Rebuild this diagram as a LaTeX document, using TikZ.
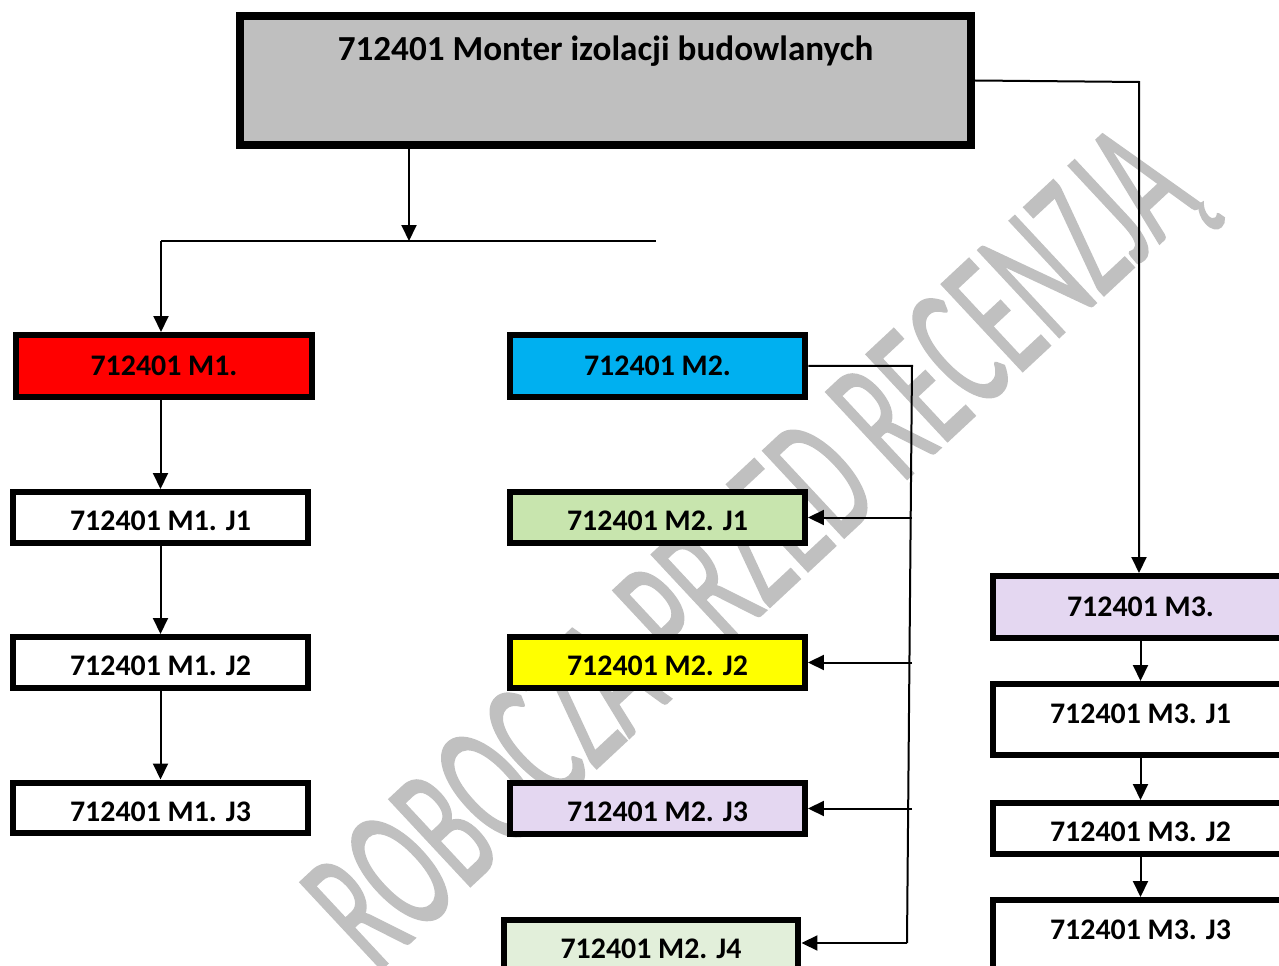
\documentclass[tikz,border=0pt]{standalone}
\usepackage{fontspec}
\setmainfont{Carlito}
\newfontfamily\wmfont[FakeBold=1.2]{Carlito}
\usepackage{graphicx}
\usepackage{xcolor}
\usetikzlibrary{arrows.meta}

\definecolor{boxgray}{HTML}{BFBFBF}
\definecolor{wmgray}{HTML}{C0C0C0}
\definecolor{modred}{HTML}{FF0000}
\definecolor{modblue}{HTML}{00B0F0}
\definecolor{lilac}{HTML}{E4D7F1}
\definecolor{jgreen}{HTML}{C8E5AE}
\definecolor{jpale}{HTML}{E2EFDA}
\definecolor{jyellow}{HTML}{FFFF00}

\begin{document}
\begin{tikzpicture}[x=0.02cm, y=-0.02cm,
        % Define styles for the boxes and the connectors
        box/.style={draw, line width=0.12cm, minimum width=5.9cm, minimum height=1.02cm,
            inner sep=0pt, text height=0.54cm, font=\bfseries\fontsize{17}{20}\selectfont},
        modbox/.style={box, minimum width=5.92cm, minimum height=1.24cm, text height=0.38cm},
        tallbox/.style={box, minimum height=1.42cm, text height=0.38cm, text depth=0.22cm},
        topbox/.style={box, line width=0.16cm, minimum width=14.62cm, minimum height=2.58cm,
            font=\bfseries\fontsize{20}{24}\selectfont, text height=0.4cm, text depth=1.2cm},
        link/.style={line width=0.04cm},
        arr/.style={link, -{Triangle[length=0.32cm, width=0.3cm]}}]

        % 1. Page frame
        \useasboundingbox (0,0) rectangle (1279,966);
        \clip (0,0) rectangle (1279,966);

        % 2. Watermark behind everything
        \node[rotate=43, text=wmgray, inner sep=0pt] (wm) at (758,556)
            {\resizebox{22.6cm}{2.4cm}{\wmfont ROBOCZA PRZED RECENZJĄ}};

        % 3. The occupation and its modules
        \node[topbox, fill=boxgray] (top) at (605.5,80.5) {712401 Monter izolacji budowlanych};
        \node[modbox, fill=modred] (m1) at (164,366) {712401 M1.};
        \node[modbox, fill=modblue] (m2) at (657.5,366) {712401 M2.};
        \node[modbox, fill=lilac] (m3) at (1140.5,607) {712401 M3.};

        % 4. Units of M1
        \node[box] (m1j1) at (160.5,517.5) {712401 M1. J1};
        \node[box] (m1j2) at (160.5,662.5) {712401 M1. J2};
        \node[box] (m1j3) at (160.5,808) {712401 M1. J3};

        % 5. Units of M2
        \node[box, fill=jgreen] (m2j1) at (657.5,517.5) {712401 M2. J1};
        \node[box, fill=jyellow] (m2j2) at (657.5,662.5) {712401 M2. J2};
        \node[box, fill=lilac] (m2j3) at (657.5,808.5) {712401 M2. J3};
        \node[box, fill=jpale] (m2j4) at (651,945.5) {712401 M2. J4};

        % 6. Units of M3
        \node[tallbox] (m3j1) at (1140.5,719.5) {712401 M3. J1};
        \node[box] (m3j2) at (1140.5,828.5) {712401 M3. J2};
        \node[tallbox] (m3j3) at (1140.5,935.5) {712401 M3. J3};

        % 7. Bends of the connectors
        \coordinate (hub) at (409,241);
        \coordinate (brL) at (161,241);
        \coordinate (brR) at (656,241);
        \coordinate (c3) at (1139,82);
        \coordinate (c2t) at (912,366);
        \coordinate (c2b) at (907,943);

        % 8. Connectors from the top box
        \draw[arr] (top.south -| hub) -- (hub);
        \draw[link] (brL) -- (brR);
        \draw[arr] (brL) -- (brL |- m1.north);
        \draw[arr] (top.east) -- (c3) -- (c3 |- m3.north);

        % 9. Chain of M1
        \draw[arr] (m1.south -| m1j1.north) -- (m1j1.north);
        \draw[arr] (m1j1.south) -- (m1j2.north);
        \draw[arr] (m1j2.south) -- (m1j3.north);

        % 10. Bus of M2
        \draw[link] (m2.east) -- (c2t) -- (c2b);
        \draw[arr] (c2t |- m2j1.east) -- (m2j1.east);
        \draw[arr] (c2t |- m2j2.east) -- (m2j2.east);
        \draw[arr] (c2t |- m2j3.east) -- (m2j3.east);
        \draw[arr] (c2b) -- (c2b -| m2j4.east);

        % 11. Chain of M3
        \draw[arr] (m3.south) -- (m3j1.north);
        \draw[arr] (m3j1.south) -- (m3j2.north);
        \draw[arr] (m3j2.south) -- (m3j3.north);

    \end{tikzpicture}
\end{document}
